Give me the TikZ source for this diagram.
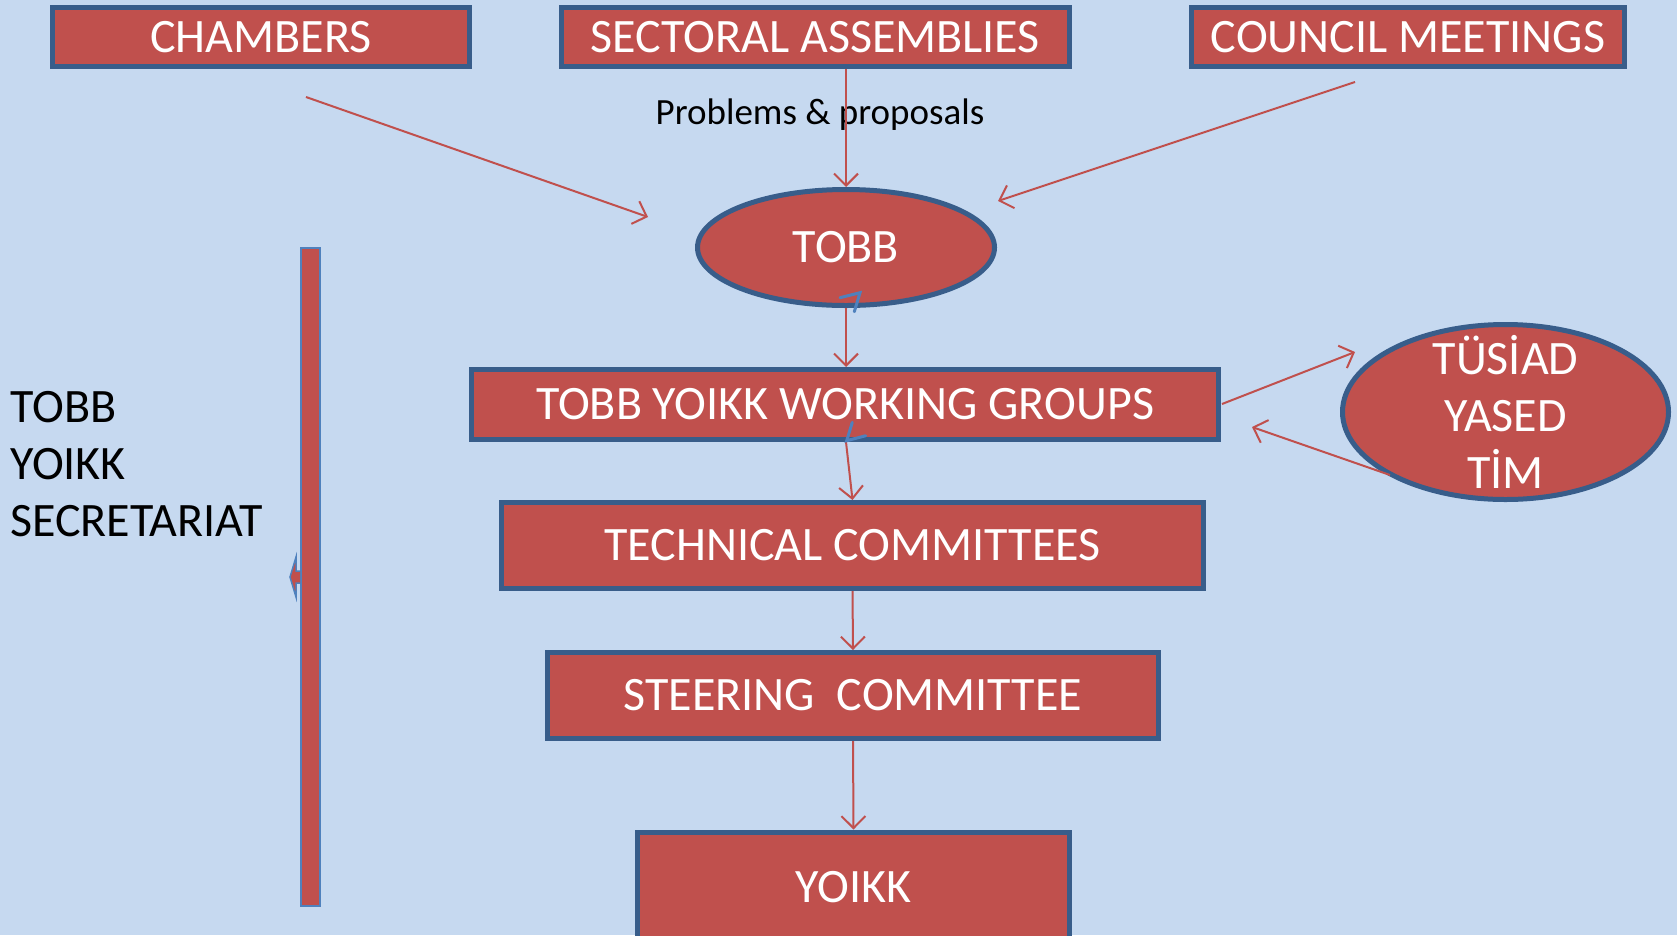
\documentclass[tikz,border=0pt]{standalone}
\usepackage{fontspec}
\setmainfont{Carlito}
\usetikzlibrary{shapes.geometric,arrows.meta}
\definecolor{bg}{HTML}{C6D9F0}
\definecolor{boxred}{HTML}{C0504D}
\definecolor{boxblue}{HTML}{385D8A}
\definecolor{lightblue}{HTML}{4F81BD}
\tikzset{
  box/.style={draw=boxblue, line width=5pt, fill=boxred, text=white, inner sep=0pt,
    font=\fontsize{48}{56}\selectfont, rectangle},
  oval/.style={box, ellipse},
  conn/.style={draw=boxred, line width=2pt, -{Straight Barb[length=12pt,width=24pt,line width=2pt]}},
  bluetip/.style={draw=lightblue, line width=3pt, line cap=round},
}
\begin{document}
\begin{tikzpicture}[x=1pt,y=-1pt]
\fill[bg] (0,0) rectangle (1677,935);
\useasboundingbox (0,0) rectangle (1677,935);

% top boxes
\node[box, minimum width=417pt, minimum height=59pt] (ch) at (261,37) {CHAMBERS};
\node[box, minimum width=508pt, minimum height=59pt] (sa) at (815.5,37) {SECTORAL ASSEMBLIES};
\node[box, minimum width=433pt, minimum height=59pt] (cm) at (1408,37) {COUNCIL MEETINGS};

\node[font=\fontsize{37}{44}\selectfont, inner sep=0pt] (pp) at (820,115) {Problems \& proposals};

% TOBB
\node[oval, minimum width=297pt, minimum height=116pt] (tobb) at (846,247.5) {TOBB};

% main chain
\node[box, minimum width=747pt, minimum height=70pt] (wg) at (845,404.5) {TOBB YOIKK WORKING GROUPS};
\node[box, minimum width=702pt, minimum height=86pt] (tc) at (852.5,545.5) {TECHNICAL COMMITTEES};
\node[box, minimum width=611pt, minimum height=86pt] (sc) at (853,695.5) {STEERING\ \ COMMITTEE};
\node[box, minimum width=432pt, minimum height=110pt] (yk) at (853.5,887) {YOIKK};

% side ellipse
\node[oval, minimum width=326pt, minimum height=175pt] (ts) at (1505.5,412) {};
\node[align=center, text=white, inner sep=0pt,
  font=\fontsize{48}{57}\selectfont] (tstext) at (ts.center) {TÜSİAD\\YASED\\TİM};

% secretariat bar
\node[draw=lightblue, line width=2pt, fill=boxred, minimum width=19pt, minimum height=658pt, inner sep=0pt] (bar) at (310.5,577) {};
\filldraw[draw=lightblue, fill=boxred, line width=1.5pt]
  (bar.west |- 0,571) -- (296,571) -- (296,557) -- (290,577) -- (296,597) -- (296,583) -- (bar.west |- 0,583);
\node[anchor=west, align=left, font=\fontsize{48}{57}\selectfont, inner sep=0pt] (sec) at (10,464) {TOBB\\YOIKK\\SECRETARIAT};

% connectors
\coordinate (chs) at (306,97);
\coordinate (cht) at (648,217);
\draw[conn] (chs) -- (cht);
\coordinate (cms) at (1355,82);
\coordinate (cmt) at (998,201);
\draw[conn] (cms) -- (cmt);
\draw[conn] (sa.south -| tobb.north) -- (tobb.north);
\draw[conn] (tobb.south) -- (wg.north -| tobb.south);
\coordinate (wgb) at (846,442);
\coordinate (tct) at (852.5,500);
\draw[conn] (wgb) -- (tct);
\draw[conn] (tc.south) -- (sc.north);
\draw[conn] (sc.south) -- (yk.north);
\coordinate (wgr) at (1222,404);
\coordinate (tsin) at (1355,352);
\draw[conn] (wgr) -- (tsin);
\coordinate (tsout) at (1390,475);
\coordinate (wgin) at (1252,427);
\draw[conn] (tsout) -- (wgin);

% stray blue arrow tips
\draw[bluetip] (840,297.7) -- (860,292.7) -- (854.3,311.7);
\draw[bluetip] (852.3,422.3) -- (846.7,440.7) -- (865.7,435.7);
\end{tikzpicture}
\end{document}
